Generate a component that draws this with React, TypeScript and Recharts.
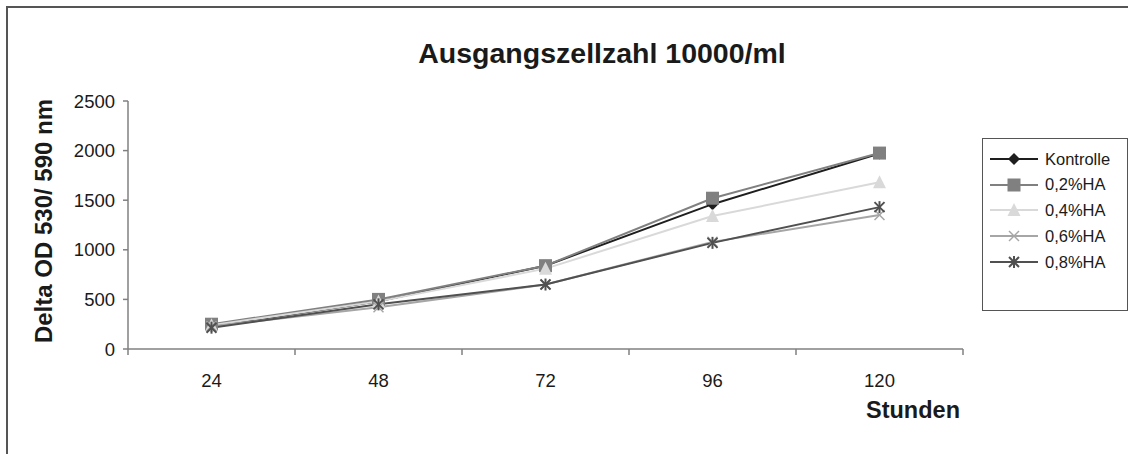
import React from 'react';
import { LineChart, Line, XAxis, YAxis } from 'recharts';

const hours = [24, 48, 72, 96, 120];
const kontrolle = [230, 480, 840, 1460, 1970];
const ha02 = [250, 500, 840, 1520, 1975];
const ha04 = [240, 480, 810, 1340, 1680];
const ha06 = [230, 420, 650, 1080, 1350];
const ha08 = [215, 450, 650, 1070, 1430];
const yTicks = [0, 500, 1000, 1500, 2000, 2500];
const xBounds = [12, 36, 60, 84, 108, 132];

const FONT = '"Liberation Sans", Arial, sans-serif';

type Shape = 'diamond' | 'square' | 'triangle' | 'cross' | 'star';

const series: { key: string; name: string; color: string; shape: Shape; values: number[] }[] = [
  { key: 'k', name: 'Kontrolle', color: '#1e1e1e', shape: 'diamond', values: kontrolle },
  { key: 'h02', name: '0,2%HA', color: '#808080', shape: 'square', values: ha02 },
  { key: 'h04', name: '0,4%HA', color: '#d9d9d9', shape: 'triangle', values: ha04 },
  { key: 'h06', name: '0,6%HA', color: '#a6a6a6', shape: 'cross', values: ha06 },
  { key: 'h08', name: '0,8%HA', color: '#505050', shape: 'star', values: ha08 },
];

const data = hours.map((h, i) => {
  const row: Record<string, number> = { h };
  series.forEach((s) => (row[s.key] = s.values[i]));
  return row;
});

const Marker = ({ cx, cy, shape, color }: { cx: number; cy: number; shape: Shape; color: string }) => {
  switch (shape) {
    case 'diamond':
      return <polygon points={`${cx},${cy - 6} ${cx + 6},${cy} ${cx},${cy + 6} ${cx - 6},${cy}`} fill={color} />;
    case 'square':
      return <rect x={cx - 6.5} y={cy - 6.5} width={13} height={13} fill={color} />;
    case 'triangle':
      return <polygon points={`${cx},${cy - 7} ${cx + 6.5},${cy + 6} ${cx - 6.5},${cy + 6}`} fill={color} />;
    case 'cross':
      return (
        <g stroke={color} strokeWidth={1.5}>
          <line x1={cx - 5} y1={cy - 5} x2={cx + 5} y2={cy + 5} />
          <line x1={cx - 5} y1={cy + 5} x2={cx + 5} y2={cy - 5} />
        </g>
      );
    default:
      return (
        <g stroke={color} strokeWidth={2}>
          <line x1={cx - 5} y1={cy - 5} x2={cx + 5} y2={cy + 5} />
          <line x1={cx - 5} y1={cy + 5} x2={cx + 5} y2={cy - 5} />
          <line x1={cx} y1={cy - 6} x2={cx} y2={cy + 6} />
        </g>
      );
  }
};

const XTick = (props: any) => {
  const { x, y, payload } = props;
  if (hours.includes(payload.value)) {
    return (
      <text x={x} y={y + 31} textAnchor="middle" dominantBaseline="central" fontSize={18.5} fill="#1a1a1a" fontFamily={FONT}>
        {payload.value}
      </text>
    );
  }
  return <line x1={x} x2={x} y1={y} y2={y + 6} stroke="#808080" strokeWidth={1.5} />;
};

const LegendBox = () => (
  <div
    style={{
      position: 'absolute',
      left: 982,
      top: 138,
      width: 146,
      height: 173,
      border: '1.5px solid #555',
      boxSizing: 'border-box',
      background: '#fff',
      paddingTop: 7,
      fontFamily: FONT,
      fontSize: 16.5,
      color: '#1a1a1a',
    }}
  >
    {series.map((s) => (
      <div key={s.key} style={{ display: 'flex', alignItems: 'center', height: 25.8 }}>
        <svg width={61} height={20} style={{ marginLeft: 1 }}>
          <line x1={6} x2={54} y1={10} y2={10} stroke={s.color} strokeWidth={2} />
          <Marker cx={30} cy={10} shape={s.shape} color={s.color} />
        </svg>
        <span style={{ lineHeight: 1 }}>{s.name}</span>
      </div>
    ))}
  </div>
);

export default function App() {
  return (
    <div style={{ position: 'fixed', left: 0, top: 0, width: 1128, height: 454, overflow: 'hidden', background: '#fff' }}>
      <div
        style={{
          position: 'absolute',
          left: 6,
          top: 6,
          width: 1140,
          height: 460,
          borderLeft: '2px solid #555',
          borderTop: '2px solid #555',
        }}
      />
      <LineChart width={1128} height={454} data={data} margin={{ top: 101, right: 165, bottom: 75, left: 68 }}>
        <XAxis
          dataKey="h"
          type="number"
          domain={[12, 132]}
          ticks={xBounds.concat(hours).sort((a, b) => a - b)}
          interval={0}
          tickSize={0}
          tickMargin={0}
          tickLine={false}
          tick={<XTick />}
          stroke="#808080"
          strokeWidth={1.5}
          height={30}
        />
        <YAxis
          type="number"
          domain={[0, 2500]}
          ticks={yTicks}
          interval={0}
          tickSize={5}
          tickMargin={8}
          stroke="#808080"
          strokeWidth={1.5}
          width={60}
          tick={{ fontSize: 18.5, fill: '#1a1a1a', fontFamily: FONT }}
        />
        {series.map((s) => (
          <Line
            key={s.key}
            dataKey={s.key}
            name={s.name}
            stroke={s.color}
            strokeWidth={2}
            isAnimationActive={false}
            dot={(p: any) => <Marker key={`${s.key}-${p.index}`} cx={p.cx} cy={p.cy} shape={s.shape} color={s.color} />}
            activeDot={false}
          />
        ))}
      </LineChart>
      <LegendBox />
      <div
        style={{
          position: 'absolute',
          left: 602,
          top: 53,
          transform: 'translate(-50%, -50%)',
          fontFamily: FONT,
          fontWeight: 'bold',
          fontSize: 28.5,
          whiteSpace: 'nowrap',
          color: '#1a1a1a',
        }}
      >
        Ausgangszellzahl 10000/ml
      </div>
      <div
        style={{
          position: 'absolute',
          left: 44,
          top: 221,
          transform: 'translate(-50%, -50%) rotate(-90deg)',
          fontFamily: FONT,
          fontWeight: 'bold',
          fontSize: 24,
          whiteSpace: 'nowrap',
          color: '#1a1a1a',
        }}
      >
        Delta OD 530/ 590 nm
      </div>
      <div
        style={{
          position: 'absolute',
          left: 866,
          top: 410,
          transform: 'translateY(-50%)',
          fontFamily: FONT,
          fontWeight: 'bold',
          fontSize: 23.5,
          whiteSpace: 'nowrap',
          color: '#1a1a1a',
        }}
      >
        Stunden
      </div>
    </div>
  );
}
